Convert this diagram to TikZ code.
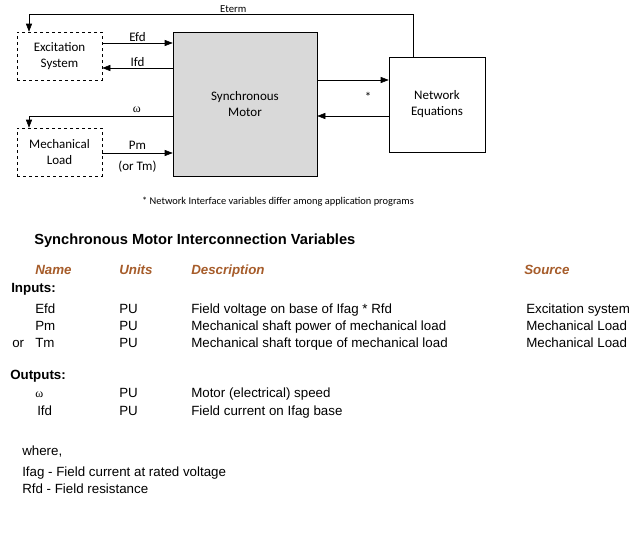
\documentclass[tikz,border=0pt]{standalone}
\usepackage{fontspec}
\setmainfont{Liberation Sans}
\newfontfamily\calibri{Carlito}
\newfontfamily\greek{Liberation Serif}
\usetikzlibrary{arrows.meta, positioning}
\definecolor{headbrown}{RGB}{166,92,42}
\definecolor{motorgray}{RGB}{217,217,217}

\begin{document}
\begin{tikzpicture}[x=0.75pt,y=-0.75pt,
  >={Triangle[length=6pt,width=4.5pt]},
  block/.style={draw, align=center, inner sep=0pt,
    font=\calibri\fontsize{9.75}{12}\selectfont},
  extblock/.style={block, dash pattern=on 2.5pt off 2pt,
    minimum width=63.75pt, minimum height=36pt},
  lbl/.style={inner sep=1pt, font=\calibri\fontsize{9.75}{12}\selectfont},
  txt/.style={anchor=base west, inner sep=0pt, font=\fontsize{10}{12}\selectfont},
  head/.style={txt, text=headbrown, font=\fontsize{10}{12}\selectfont\bfseries\itshape},
  sect/.style={txt, font=\fontsize{10}{12}\selectfont\bfseries}]
  \useasboundingbox (0,0) rectangle (640,551);

  % blocks
  \node[extblock] (exc) at (59.5,56) {Excitation\\System};
  \node[extblock] (load) at (59.5,152) {Mechanical\\Load};
  \node[block, fill=motorgray, minimum width=108pt, minimum height=108pt] (motor) at (245,104) {Synchronous\\Motor};
  \node[block, minimum width=72pt, minimum height=71.25pt] (net) at (437,104.5) {Network\\Equations};

  % connections
  \draw[->] (net.north -| 413,0) |- (29,14.5)
      node[lbl, pos=0.734, above, font=\calibri\fontsize{8}{10}\selectfont] (eterm) {Eterm}
    -- (exc.north -| 29,0);
  \draw[->] (exc.east |- 0,43) -- (motor.west |- 0,43) node[lbl, midway, above] (efd) {Efd};
  \draw[->] (motor.west |- 0,68) -- (exc.east |- 0,68) node[lbl, midway, above] (ifd) {Ifd};
  \draw[->] (motor.west |- 0,116) -| (load.north -| 29,0)
      node[lbl, pos=0.125, above=1pt, font=\greek\fontsize{9}{11}\selectfont] (omega) {ω};
  \draw[->] (load.east |- 0,153) -- (motor.west |- 0,153)
      node[lbl, midway, above=1.5pt] (pm) {Pm}
      node[lbl, midway, below=4.5pt] (tm) {(or Tm)};
  \draw[->] (motor.east |- 0,80) -- (net.west |- 0,80);
  \draw[->] (net.west |- 0,116) -- (motor.east |- 0,116);
  \node[lbl] (star) at (368,97) {*};

  \node[font=\calibri\fontsize{7.8}{9}\selectfont] (note) at (278,202)
    {* Network Interface variables differ among application programs};

  % table
  \node[txt, font=\fontsize{11}{13}\selectfont\bfseries] (title) at (34,244) {Synchronous Motor Interconnection Variables};
  \node[head] (hname) at (35,274) {Name};
  \node[head] (hunits) at (119,274) {Units};
  \node[head] (hdesc) at (191,274) {Description};
  \node[head] (hsrc) at (524,274) {Source};

  \node[sect] (inputs) at (11,292) {Inputs:};
  \node[txt] (efd1) at (35,313) {Efd};
  \node[txt] (efd2) at (119,313) {PU};
  \node[txt] (efd3) at (191,313) {Field voltage on base of Ifag * Rfd};
  \node[txt] (efd4) at (526,313) {Excitation system};
  \node[txt] (pm1) at (35,330) {Pm};
  \node[txt] (pm2) at (119,330) {PU};
  \node[txt] (pm3) at (191,330) {Mechanical shaft power of mechanical load};
  \node[txt] (pm4) at (526,330) {Mechanical Load};
  \node[txt] (tm0) at (12,347) {or};
  \node[txt] (tm1) at (35,347) {Tm};
  \node[txt] (tm2) at (119,347) {PU};
  \node[txt] (tm3) at (191,347) {Mechanical shaft torque of mechanical load};
  \node[txt] (tm4) at (526,347) {Mechanical Load};

  \node[sect] (outputs) at (10,379) {Outputs:};
  \node[txt, font=\greek\fontsize{9}{11}\selectfont] (w1) at (35,397) {ω};
  \node[txt] (w2) at (119,397) {PU};
  \node[txt] (w3) at (191,397) {Motor (electrical) speed};
  \node[txt] (ifd1) at (37,415) {Ifd};
  \node[txt] (ifd2) at (119,415) {PU};
  \node[txt] (ifd3) at (191,415) {Field current on Ifag base};

  \node[txt] (where) at (22,455.5) {where,};
  \node[txt] (ifag) at (22,476) {Ifag - Field current at rated voltage};
  \node[txt] (rfd) at (22,493) {Rfd - Field resistance};
\end{tikzpicture}
\end{document}
